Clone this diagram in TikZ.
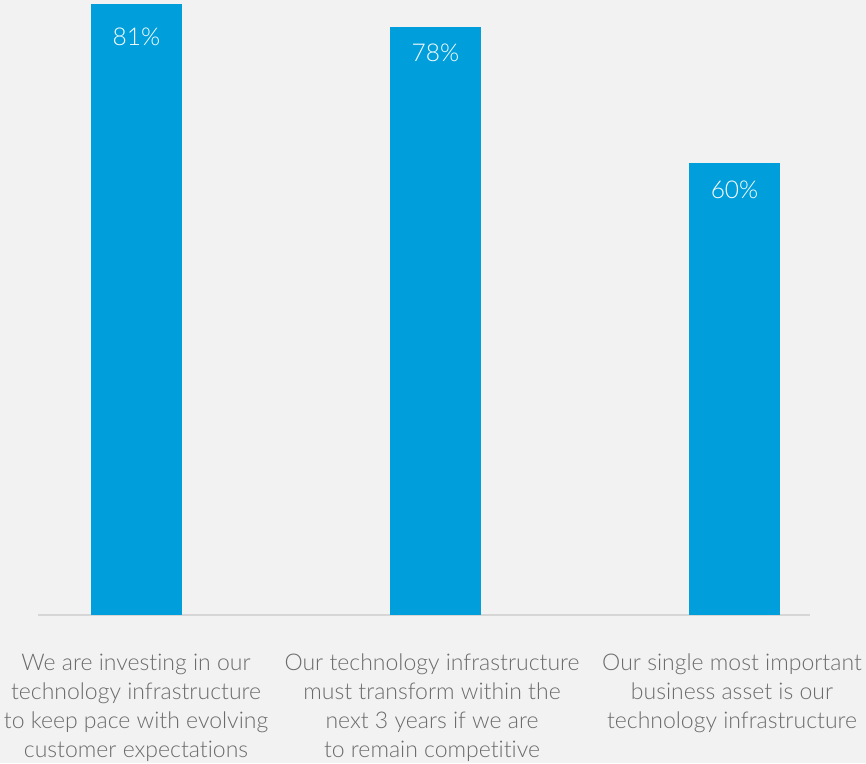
\documentclass[tikz,border=0pt]{standalone}
\usepackage{fontspec}
\setmainfont{Lato Light}[Ligatures={NoCommon}]
\definecolor{bgc}{HTML}{F2F2F2}
\definecolor{barc}{HTML}{009FDB}
\definecolor{axisc}{HTML}{D6D6D6}
\definecolor{txtc}{HTML}{6B6B6B}
\begin{document}
\begin{tikzpicture}[x=1pt,y=-1pt,
  bar/.style={fill=barc, draw=none, minimum width=91pt, anchor=south, inner sep=0pt},
  pct/.style={text=white, font=\fontsize{24.5}{28}\selectfont, inner sep=0pt},
  cat/.style={text=txtc, font=\fontsize{23}{29}\selectfont, align=center, inner sep=0pt, anchor=north}]
\fill[bgc] (0,0) rectangle (866,763);
\useasboundingbox (0,0) rectangle (866,763);
\coordinate (axl) at (38,615);
\coordinate (axr) at (810,615);
\draw[axisc, line width=1.5pt] (axl) -- (axr);
\node[bar, minimum height=611pt] (b1) at (136.5,615) {};
\node[bar, minimum height=588pt] (b2) at (435.5,615) {};
\node[bar, minimum height=452pt] (b3) at (734.5,615) {};
\node[pct] (p1) at (136.5,37) {81\%};
\node[pct] (p2) at (435.5,53) {78\%};
\node[pct] (p3) at (734.5,190) {60\%};
\node[cat] (c1) at (136,654) {We are investing in our\\technology infrastructure\\to keep pace with evolving\\customer expectations};
\node[cat] (c2) at (432,654) {Our technology infrastructure\\must transform within the\\next 3 years if we are\\to remain competitive};
\node[cat] (c3) at (732,654) {Our single most important\\business asset is our\\technology infrastructure};
\end{tikzpicture}
\end{document}
